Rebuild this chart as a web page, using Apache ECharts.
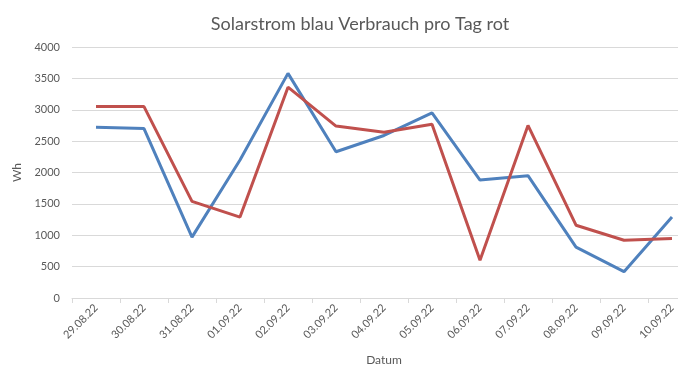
<!DOCTYPE html>
<html><head><meta charset="utf-8">
<script src="https://cdn.jsdelivr.net/npm/echarts@6/dist/echarts.min.js"></script>
<style>html,body{margin:0;padding:0;background:#fff;overflow:hidden;width:678px;height:373px}#c{width:700px;height:373px}</style>
</head><body><div id="c"></div>
<script>
const categories = ['29.08.22','30.08.22','31.08.22','01.09.22','02.09.22','03.09.22','04.09.22','05.09.22','06.09.22','07.09.22','08.09.22','09.09.22','10.09.22'];
const solarstrom = [2720, 2700, 970, 2200, 3580, 2330, 2590, 2950, 1880, 1950, 810, 420, 1290];
const verbrauch = [3050, 3050, 1540, 1290, 3360, 2740, 2640, 2770, 600, 2750, 1160, 920, 950];
const yTicks = [0, 500, 1000, 1500, 2000, 2500, 3000, 3500, 4000];

const font = 'Lato, "Open Sans", sans-serif';
const chart = echarts.init(document.getElementById('c'), null, {renderer: 'canvas'});
chart.setOption({
  animation: false,
  title: {
    text: 'Solarstrom blau Verbrauch pro Tag rot',
    left: 355, top: 10, textAlign: 'center',
    textStyle: {fontFamily: font, fontSize: 18, fontWeight: 'normal', color: '#595959'}
  },
  grid: {left: 72, width: 624, top: 47, height: 251, containLabel: false},
  xAxis: {
    type: 'category', data: categories, boundaryGap: true,
    name: 'Datum', nameLocation: 'middle', nameGap: 56,
    nameTextStyle: {fontFamily: font, fontSize: 12, color: '#595959'},
    axisLine: {lineStyle: {color: '#d9d9d9', width: 1}},
    axisTick: {show: true, length: 5, lineStyle: {color: '#d9d9d9'}},
    axisLabel: {rotate: 45, interval: 0, fontFamily: font, fontSize: 11, color: '#595959', margin: 8}
  },
  yAxis: {
    type: 'value', min: yTicks[0], max: yTicks[yTicks.length - 1], interval: yTicks[1] - yTicks[0],
    name: 'Wh', nameLocation: 'middle', nameGap: 43, nameRotate: 90,
    nameTextStyle: {fontFamily: font, fontSize: 12, color: '#595959'},
    axisLine: {show: false}, axisTick: {show: false},
    splitLine: {lineStyle: {color: '#d9d9d9', width: 1}},
    axisLabel: {fontFamily: font, fontSize: 11, color: '#595959', margin: 12, formatter: v => String(v)}
  },
  series: [
    {type: 'line', name: 'Solarstrom', data: solarstrom, symbol: 'none',
     lineStyle: {color: '#4F81BD', width: 3}, itemStyle: {color: '#4F81BD'}},
    {type: 'line', name: 'Verbrauch', data: verbrauch, symbol: 'none',
     lineStyle: {color: '#C0504D', width: 3}, itemStyle: {color: '#C0504D'}}
  ]
});
</script></body></html>
